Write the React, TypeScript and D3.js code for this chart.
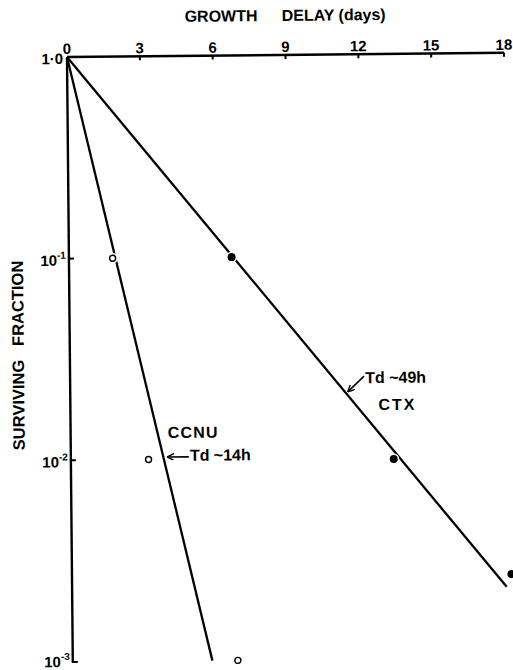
import React, { useRef, useEffect } from 'react';
import * as d3 from 'd3';

// measured points (growth delay in days vs surviving fraction)
const ccnuDays = [1.8, 3.2, 6.8];
const ccnuFraction = [0.1, 0.01, 0.001];
const ctxDays = [6.7, 13.3, 18.1];
const ctxFraction = [0.1, 0.0098, 0.0026];

// fitted lines
const ccnuLineDays = [0, 5.75];
const ccnuLineFraction = [1, 0.001];
const ctxLineDays = [0, 17.9];
const ctxLineFraction = [1, 0.00225];

const xTicks = [0, 3, 6, 9, 12, 15, 18];
const yTicks = [1, 0.1, 0.01, 0.001];
const yTickBase = ['1·0', '10', '10', '10'];
const yTickExp = ['', '-1', '-2', '-3'];

const FONT = '"Liberation Sans", Arial, sans-serif';

const App = () => {
  const svgRef = useRef<SVGSVGElement>(null);

  useEffect(() => {
    const width = 513;
    const height = 670;
    const svg = d3.select(svgRef.current)
      .attr('width', width)
      .attr('height', height)
      .style('position', 'absolute')
      .style('left', 0)
      .style('top', 0)
      .style('background', '#fff');
    svg.selectAll('*').remove();

    const defs = svg.append('defs');
    defs.append('marker')
      .attr('id', 'arr')
      .attr('viewBox', '0 0 10 10')
      .attr('refX', 9)
      .attr('refY', 5)
      .attr('markerWidth', 7)
      .attr('markerHeight', 7)
      .attr('markerUnits', 'userSpaceOnUse')
      .attr('orient', 'auto')
      .append('path')
      .attr('d', 'M0,0 L10,5 L0,10')
      .attr('fill', 'none')
      .attr('stroke', '#000')
      .attr('stroke-width', 2);

    // the scan is tilted slightly, so the whole plot is rotated about the origin
    const g = svg.append('g').attr('transform', 'translate(67,57) rotate(-0.55)');

    const x = d3.scaleLinear().domain([0, 18]).range([0, 437]);
    const y = d3.scaleLog().domain([1, 0.001]).range([0, 605]);

    // x axis on top
    g.append('line')
      .attr('x1', x(0)).attr('x2', x(18))
      .attr('y1', 0).attr('y2', 0)
      .attr('stroke', '#000').attr('stroke-width', 2.4);
    g.selectAll('.xtick')
      .data(xTicks.filter(d => d > 0))
      .enter().append('line')
      .attr('x1', d => x(d)).attr('x2', d => x(d))
      .attr('y1', 0).attr('y2', 4)
      .attr('stroke', '#000').attr('stroke-width', 2);
    g.selectAll('.xlab')
      .data(xTicks)
      .enter().append('text')
      .attr('x', d => x(d))
      .attr('y', -3)
      .attr('text-anchor', 'middle')
      .style('font-family', FONT)
      .style('font-weight', 'bold')
      .style('font-size', '15px')
      .text(d => d);

    // y axis on left
    g.append('line')
      .attr('x1', 0).attr('x2', 0)
      .attr('y1', y(1)).attr('y2', y(0.001))
      .attr('stroke', '#000').attr('stroke-width', 2.4);
    g.selectAll('.ytick')
      .data(yTicks.filter(d => d < 1))
      .enter().append('line')
      .attr('x1', -1).attr('x2', 5)
      .attr('y1', d => y(d)).attr('y2', d => y(d))
      .attr('stroke', '#000').attr('stroke-width', 2);
    const ylab = g.selectAll('.ylab')
      .data(yTicks)
      .enter().append('text')
      .attr('x', (d, i) => (i === 0 ? -4 : -3))
      .attr('y', (d, i) => y(d) + (i === 3 ? 5 : 7))
      .attr('text-anchor', 'end')
      .style('font-family', FONT)
      .style('font-weight', 'bold')
      .style('font-size', '15px');
    ylab.append('tspan').text((d, i) => yTickBase[i]);
    ylab.append('tspan')
      .attr('dy', -7)
      .style('font-size', '10px')
      .text((d, i) => yTickExp[i]);

    // axis titles
    const titleStyle = (sel: any, size: number) => sel
      .style('font-family', FONT)
      .style('font-weight', 'bold')
      .style('font-size', `${size}px`);
    titleStyle(g.append('text').attr('x', 118).attr('y', -34).text('GROWTH'), 16);
    titleStyle(g.append('text').attr('x', 215).attr('y', -34).text('DELAY (days)'), 16);
    titleStyle(
      g.append('text')
        .attr('transform', 'translate(-46,298) rotate(-90)')
        .attr('text-anchor', 'middle')
        .text('SURVIVING\u00a0\u00a0\u00a0FRACTION'),
      16.5
    );

    // fitted lines
    const line = d3.line<[number, number]>()
      .x(d => x(d[0]))
      .y(d => y(d[1]));
    g.append('path')
      .datum(ccnuLineDays.map((d, i) => [d, ccnuLineFraction[i]] as [number, number]))
      .attr('d', line)
      .attr('fill', 'none').attr('stroke', '#000').attr('stroke-width', 2.3);
    g.append('path')
      .datum(ctxLineDays.map((d, i) => [d, ctxLineFraction[i]] as [number, number]))
      .attr('d', line)
      .attr('fill', 'none').attr('stroke', '#000').attr('stroke-width', 2.3);

    // points with a white halo that breaks the line
    const ccnu = ccnuDays.map((d, i) => ({ d, f: ccnuFraction[i] }));
    const ctx = ctxDays.map((d, i) => ({ d, f: ctxFraction[i] }));
    g.selectAll('.halo')
      .data([...ccnu, ...ctx])
      .enter().append('circle')
      .attr('cx', p => x(p.d)).attr('cy', p => y(p.f))
      .attr('r', 5.5).attr('fill', '#fff');
    g.selectAll('.open')
      .data(ccnu)
      .enter().append('circle')
      .attr('cx', p => x(p.d)).attr('cy', p => y(p.f))
      .attr('r', 3).attr('fill', '#fff')
      .attr('stroke', '#000').attr('stroke-width', 1.4);
    g.selectAll('.filled')
      .data(ctx)
      .enter().append('circle')
      .attr('cx', p => x(p.d)).attr('cy', p => y(p.f))
      .attr('r', 4).attr('fill', '#000');

    // annotations
    const note = (tx: number, ty: number, s: string, ls = 0) =>
      g.append('text')
        .attr('x', tx).attr('y', ty)
        .style('font-family', FONT)
        .style('font-weight', 'bold')
        .style('font-size', '16px')
        .style('letter-spacing', `${ls}px`)
        .text(s);
    note(97, 382, 'CCNU', 1.2);
    note(119, 405, 'Td ~14h');
    note(295, 329, 'Td ~49h');
    note(308, 356, 'CTX', 2);

    g.append('line')
      .attr('x1', 118).attr('y1', 401)
      .attr('x2', 97).attr('y2', 401)
      .attr('stroke', '#000').attr('stroke-width', 1.6)
      .attr('marker-end', 'url(#arr)');
    g.append('line')
      .attr('x1', 294).attr('y1', 322)
      .attr('x2', 278).attr('y2', 337)
      .attr('stroke', '#000').attr('stroke-width', 1.6)
      .attr('marker-end', 'url(#arr)');
  }, []);

  return <svg ref={svgRef}></svg>;
};

export default App;
